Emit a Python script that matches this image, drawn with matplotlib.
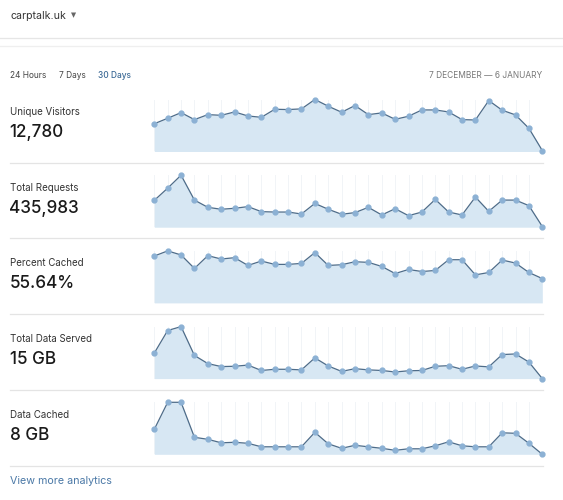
import matplotlib
matplotlib.use('Agg')
import matplotlib.pyplot as plt
import numpy as np

plt.rcParams['font.family'] = ['Inter', 'DejaVu Sans']

# daily values, 30 days (7 Dec - 6 Jan)
unique_visitors = [290, 347, 406, 333, 385, 378, 413, 371, 357, 441, 438, 445, 543, 473, 410,
                   480, 385, 403, 336, 368, 434, 434, 413, 333, 329, 532, 431, 382, 242, 10]
total_requests = [19300, 28100, 37400, 19500, 14300, 12900, 13600, 14800, 11200, 10900,
                  10900, 9500, 17100, 12900, 9300, 10500, 14300, 8800, 13300, 8300,
                  10900, 20000, 10900, 8800, 21700, 11400, 19500, 19500, 15500, 500]
percent_cached = [67.1, 74.4, 68.6, 49.3, 67.6, 62.8, 64.7, 53.6, 59.9, 55.1, 55.1, 56.5,
                  72.0, 53.6, 54.6, 58.9, 58.0, 52.2, 42.0, 47.8, 44.9, 46.4, 61.8, 61.8,
                  40.1, 43.5, 61.3, 57.0, 43.5, 34.8]
data_served_gb = [0.85, 1.60, 1.73, 0.77, 0.50, 0.40, 0.41, 0.45, 0.27, 0.31, 0.31, 0.29,
                  0.69, 0.42, 0.24, 0.33, 0.29, 0.27, 0.22, 0.26, 0.27, 0.41, 0.43, 0.31,
                  0.42, 0.39, 0.80, 0.82, 0.55, 0.0]
data_cached_gb = [0.50, 1.04, 1.04, 0.34, 0.30, 0.23, 0.24, 0.22, 0.15, 0.15, 0.15, 0.15,
                  0.44, 0.21, 0.12, 0.18, 0.15, 0.12, 0.08, 0.11, 0.11, 0.17, 0.25, 0.17,
                  0.15, 0.15, 0.43, 0.42, 0.22, 0.0]

labels = ['Unique Visitors', 'Total Requests', 'Percent Cached', 'Total Data Served', 'Data Cached']
totals = ['12,780', '435,983', '55.64%', '15 GB', '8 GB']
series = [unique_visitors, total_requests, percent_cached, data_served_gb, data_cached_gb]

W, H = 563, 500
fig = plt.figure(figsize=(W / 100, H / 100), dpi=100)
fig.patch.set_facecolor('white')


def fx(px):
    return px / W


def fy(py):
    return 1 - py / H


def hline(y, x0=0, x1=W, color='#e4e4e4', lw=0.9):
    fig.add_artist(plt.Line2D([fx(x0), fx(x1)], [fy(y), fy(y)], color=color, lw=lw))


# header
fig.text(fx(10.5), fy(16), 'carptalk.uk', fontsize=7.6, color='#333333', va='center')
fig.text(fx(71), fy(15.5), '\u25BC', fontsize=4.8, color='#666666', va='center',
         family=['DejaVu Sans'])
hline(37.5, color='#e6e6e6')
hline(45.5, color='#efefef')

fig.text(fx(10.5), fy(76), '24 Hours', fontsize=6.0, color='#444444', va='center')
fig.text(fx(59), fy(76), '7 Days', fontsize=6.0, color='#444444', va='center')
fig.text(fx(98), fy(76), '30 Days', fontsize=6.0, color='#3c6a96', va='center',
         fontweight='medium')
fig.text(fx(542), fy(76), '7 DECEMBER \u2014 6 JANUARY', fontsize=6.0, color='#777777',
         va='center', ha='right')

row_h = 75.7
x = np.arange(30)
for i, (lab, tot, vals) in enumerate(zip(labels, totals, series)):
    off = i * row_h
    fig.text(fx(10), fy(112 + off), lab, fontsize=7, color='#333333', va='center')
    fig.text(fx(9.5), fy(132.5 + off), tot, fontsize=12.3, color='#1a1a1a', va='center',
             fontweight='medium')
    hline(162.7 + off, 10, 543)

    top = 99.5 + off
    base = 151.5 + off
    ax = fig.add_axes([fx(154.3), fy(base), fx(542.3) - fx(154.3), (base - top) / H])
    v = np.array(vals)
    ax.set_xlim(0, 29)
    ax.set_ylim(0, v.max())
    for xi in x:
        ax.axvline(xi, color='#f1f4f7', lw=0.7, zorder=0)
    ax.fill_between(x, v, 0, color='#d7e7f3', zorder=1, lw=0)
    ax.plot(x, v, color='#4e6c89', lw=0.9, zorder=2, clip_on=False)
    ax.plot(x, v, 'o', ms=3.5, mfc='#8cb1d4', mec='#8cb1d4', zorder=3, clip_on=False)
    ax.axis('off')

fig.text(fx(10), fy(481), 'View more analytics', fontsize=7.7, color='#4a78a6', va='center')

fig.savefig('out.png', dpi=100)
